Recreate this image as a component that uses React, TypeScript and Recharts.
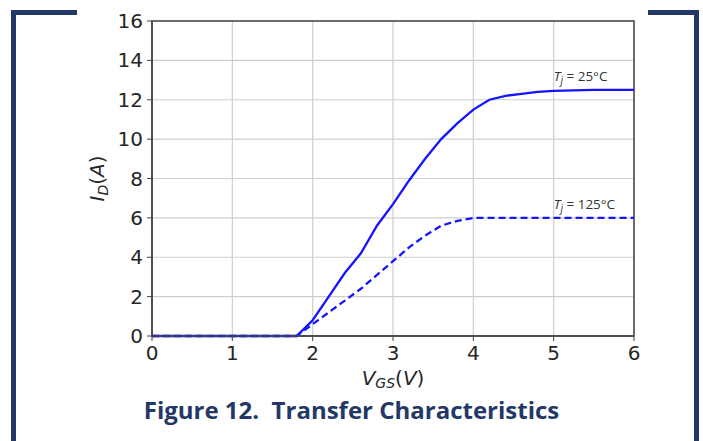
import React from 'react';
import { LineChart, Line, XAxis, YAxis, CartesianGrid, ReferenceArea, ReferenceDot } from 'recharts';

// Transfer curve at Tj = 25°C: ID (A) against VGS (V)
const vgs25 = [0, 1, 1.8, 2.0, 2.2, 2.4, 2.6, 2.8, 3.0, 3.2, 3.4, 3.6, 3.8, 4.0, 4.2, 4.4, 4.6, 4.8, 5.0, 5.5, 6.0];
const id25 = [0, 0, 0, 0.8, 2.0, 3.2, 4.2, 5.6, 6.7, 7.9, 9.0, 10.0, 10.8, 11.5, 12.0, 12.2, 12.3, 12.4, 12.45, 12.5, 12.5];

// Transfer curve at Tj = 125°C
const vgs125 = [0, 1, 1.8, 2.0, 2.2, 2.4, 2.6, 2.8, 3.0, 3.2, 3.4, 3.6, 3.8, 4.0, 4.2, 5.0, 6.0];
const id125 = [0, 0, 0, 0.6, 1.2, 1.8, 2.4, 3.1, 3.8, 4.5, 5.1, 5.6, 5.85, 6.0, 6.0, 6.0, 6.0];

const xTicks = [0, 1, 2, 3, 4, 5, 6];
const yTicks = [0, 2, 4, 6, 8, 10, 12, 14, 16];

const data25 = vgs25.map((v, i) => ({ vgs: v, id: id25[i] }));
const data125 = vgs125.map((v, i) => ({ vgs: v, id: id125[i] }));

const NAVY = '#243867';
const INK = '#262626';
const BLUE = '#1414ff';
const mathFont = '"DejaVu Sans", sans-serif';

const tempTag = (temp: string) => (props: any) => {
  const { x, y } = props.viewBox;
  return (
    <text x={x} y={y - 9} fontFamily='"Open Sans", sans-serif' fontSize={13.5} fill="#333">
      <tspan fontStyle="italic">T</tspan>
      <tspan fontSize={10} dy={3} fontStyle="italic">j</tspan>
      <tspan dy={-3}>{` = ${temp}°C`}</tspan>
    </text>
  );
};

const XTitle = (props: any) => {
  const { x, y, width } = props.viewBox;
  return (
    <text x={x + width / 2} y={y + 49} textAnchor="middle" fontFamily={mathFont} fontSize={20} fill={INK}>
      <tspan fontStyle="italic">V</tspan>
      <tspan fontStyle="italic" fontSize={14} dy={3}>GS</tspan>
      <tspan dy={-3}>(</tspan>
      <tspan fontStyle="italic">V</tspan>
      <tspan>)</tspan>
    </text>
  );
};

const YTitle = (props: any) => {
  const { y, height } = props.viewBox;
  const cx = 104;
  const cy = y + height / 2;
  return (
    <text x={cx} y={cy} textAnchor="middle" transform={`rotate(-90 ${cx} ${cy})`} fontFamily={mathFont} fontSize={20} fill={INK}>
      <tspan fontStyle="italic">I</tspan>
      <tspan fontStyle="italic" fontSize={14} dy={4}>D</tspan>
      <tspan dy={-4}>(</tspan>
      <tspan fontStyle="italic">A</tspan>
      <tspan>)</tspan>
    </text>
  );
};

const bar = (left: number, top: number, width: number, height: number): React.CSSProperties => ({
  position: 'absolute', left, top, width, height, background: NAVY,
});

export default function App() {
  const tick = { fontFamily: mathFont, fontSize: 20, fill: INK };
  return (
    <div style={{ position: 'absolute', left: 0, top: 0, width: 703, height: 441, background: '#fff', overflow: 'hidden' }}>
      <div style={bar(11, 10, 66, 5)} />
      <div style={bar(11, 10, 5, 431)} />
      <div style={bar(648, 10, 51, 5)} />
      <div style={bar(694, 10, 5, 431)} />
      <LineChart width={703} height={441} margin={{ top: 21, right: 69, bottom: 45, left: 92 }}>
        <CartesianGrid stroke="#cfcfcf" strokeWidth={1.2} />
        <XAxis
          type="number"
          dataKey="vgs"
          domain={[0, 6]}
          ticks={xTicks}
          height={60}
          tick={tick}
          tickSize={5}
          tickMargin={5}
          stroke="#444"
          axisLine={{ stroke: '#444', strokeWidth: 1.5 }}
          label={<XTitle />}
          allowDuplicatedCategory={false}
        />
        <YAxis
          type="number"
          domain={[0, 16]}
          ticks={yTicks}
          width={60}
          tick={tick}
          tickSize={5}
          tickMargin={4}
          stroke="#444"
          axisLine={{ stroke: '#444', strokeWidth: 1.5 }}
          label={<YTitle />}
        />
        <ReferenceArea x1={0} x2={6} y1={0} y2={16} fill="none" stroke="#444" strokeWidth={1.5} />
        <Line data={data25} dataKey="id" type="linear" stroke={BLUE} strokeWidth={2.3} dot={false} isAnimationActive={false} />
        <Line data={data125} dataKey="id" type="linear" stroke={BLUE} strokeWidth={2.3} strokeDasharray="7 4" dot={false} isAnimationActive={false} />
        <ReferenceDot x={5} y={12.5} r={0} fill="none" stroke="none" label={tempTag('25')} />
        <ReferenceDot x={5} y={6} r={0} fill="none" stroke="none" label={tempTag('125')} />
      </LineChart>
      <div
        style={{
          position: 'absolute', left: 0, width: 703, top: 398, textAlign: 'center', lineHeight: '24px',
          fontFamily: '"Open Sans", sans-serif', fontWeight: 700, fontSize: 24, color: NAVY, whiteSpace: 'pre',
        }}
      >
        {'Figure 12.  Transfer Characteristics'}
      </div>
    </div>
  );
}
